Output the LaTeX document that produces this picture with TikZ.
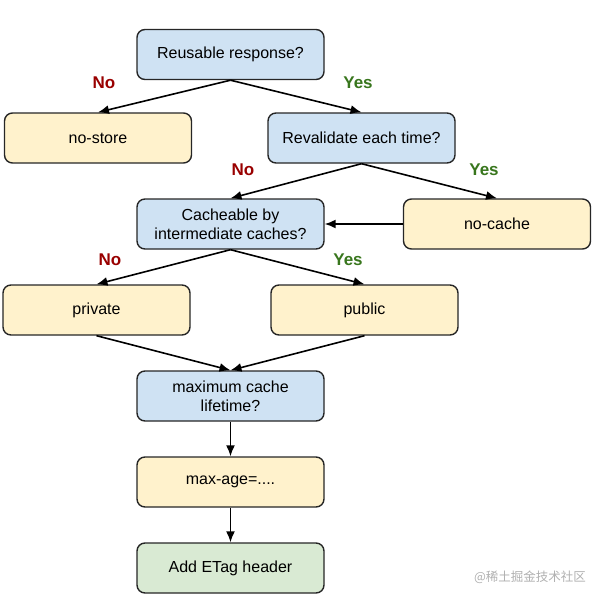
\documentclass[tikz,border=0pt]{standalone}
\usepackage{fontspec}
\setmainfont{Liberation Sans}
\newfontfamily\cjkfont{Noto Sans CJK SC}
\usetikzlibrary{arrows.meta}
\definecolor{askc}{HTML}{CFE2F3}
\definecolor{rulec}{HTML}{FFF2CC}
\definecolor{donec}{HTML}{D9EAD3}
\definecolor{noc}{HTML}{990000}
\definecolor{yesc}{HTML}{38761D}
\definecolor{markc}{HTML}{B0B0B0}
\tikzset{
  box/.style={draw=black!85, line width=1.4pt, rounded corners=8pt,
    minimum width=187pt, minimum height=50pt, inner sep=0pt,
    align=center, font=\fontsize{16}{19}\selectfont},
  askbox/.style={box, fill=askc},
  rulebox/.style={box, fill=rulec},
  donebox/.style={box, fill=donec},
  link/.style={line width=1.6pt, -{Latex[length=11pt,width=9pt]}},
  nolab/.style={text=noc, font=\fontsize{17}{20}\selectfont\bfseries},
  yeslab/.style={text=yesc, font=\fontsize{17}{20}\selectfont\bfseries}}

\begin{document}
\begin{tikzpicture}[x=1pt, y=-1pt]
  \useasboundingbox (0,0) rectangle (595,600);
  % questions and answers
  \node[askbox]  (reuse)  at (230.5,54.5) {Reusable response?};
  \node[rulebox] (nostore) at (98,138)   {no-store};
  \node[askbox]  (reval)  at (361.5,138) {Revalidate each time?};
  \node[askbox]  (inter)  at (230.5,224) {Cacheable by\\intermediate caches?};
  \node[rulebox] (nocache) at (497,224)  {no-cache};
  \node[rulebox] (priv)   at (96.5,310)  {private};
  \node[rulebox] (pub)    at (364.5,310) {public};
  \node[askbox]  (life)   at (230.5,396) {maximum cache\\lifetime?};
  \node[rulebox] (maxage) at (230.5,482) {max-age=....};
  \node[donebox] (etag)   at (230.5,568) {Add ETag header};
  % branch labels
  \node[nolab]  (no1)  at (104,83)  {No};
  \node[yeslab] (yes1) at (358,83)  {Yes};
  \node[nolab]  (no2)  at (243,170) {No};
  \node[yeslab] (yes2) at (484,170) {Yes};
  \node[nolab]  (no3)  at (110,260) {No};
  \node[yeslab] (yes3) at (348,260) {Yes};
  % connectors
  \draw[link] (reuse.south) -- (nostore.north);
  \draw[link] (reuse.south) -- (reval.north);
  \draw[link] (reval.south) -- (inter.north);
  \draw[link] (reval.south) -- (nocache.north);
  \draw[link] (nocache.west) -- (inter.east);
  \draw[link] (inter.south) -- (priv.north);
  \draw[link] (inter.south) -- (pub.north);
  \draw[link] (priv.south) -- (life.north);
  \draw[link] (pub.south) -- (life.north);
  \draw[link] (life.south) -- (maxage.north);
  \draw[link] (maxage.south) -- (etag.north);
  \node[text=markc, font=\cjkfont\fontsize{12.5}{14}\selectfont] (mark) at (530,577) {@稀土掘金技术社区};
\end{tikzpicture}
\end{document}
